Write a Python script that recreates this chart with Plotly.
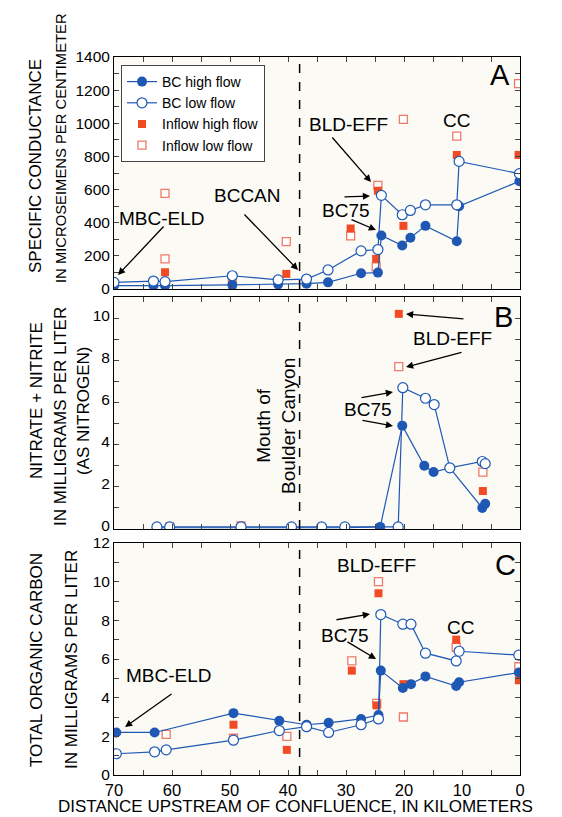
import plotly.graph_objects as go

# ---------------- DATA ----------------
# Panel A: specific conductance (uS/cm)
a_bc_high_km = [70, 63.2, 61.2, 49.6, 41.7, 36.8, 33.1, 27.4, 24.5, 23.9, 20.3, 18.9, 16.3, 10.9, 10.5, 0.1]
a_bc_high_val = [20, 20, 20, 25, 28, 32, 40, 95, 99, 323, 262, 309, 381, 288, 500, 650]
a_bc_low_km = [70, 63.2, 61.2, 49.6, 41.7, 36.8, 33.1, 27.4, 24.5, 23.9, 20.3, 18.9, 16.3, 10.9, 10.5, 0.1]
a_bc_low_val = [40, 48, 44, 80, 55, 60, 115, 230, 238, 565, 448, 474, 508, 508, 770, 696]
a_in_high_km = [61.2, 49.6, 40.3, 29.2, 24.8, 24.5, 20.1, 10.9, 0.25]
a_in_high_val = [101, 24, 91, 365, 182, 593, 381, 809, 809]
a_in_low_km = [61.2, 61.2, 49.6, 40.3, 29.2, 24.8, 24.5, 20.1, 10.9, 0.25]
a_in_low_val = [577, 182, 73, 286, 321, 133, 625, 1023, 922, 1239]

# Panel B: nitrate + nitrite (mg/L as N)
b_bc_high_km = [62.6, 60.4, 48.1, 39.4, 34.2, 30.2, 24.1, 20.3, 16.5, 14.9, 12.1, 6.5, 6.0]
b_bc_high_val = [0.06, 0.06, 0.06, 0.06, 0.06, 0.06, 0.1, 4.9, 3.0, 2.7, 2.9, 1.0, 1.2]
b_bc_low_km = [62.6, 60.4, 48.1, 39.4, 34.2, 30.2, 21.0, 20.2, 16.3, 14.8, 12.1, 6.5, 6.0]
b_bc_low_val = [0.1, 0.1, 0.1, 0.1, 0.1, 0.1, 0.1, 6.7, 6.2, 5.9, 2.9, 3.2, 3.1]
b_in_high_km = [20.9, 6.4]
b_in_high_val = [10.2, 1.8]
b_in_low_km = [60.4, 48.1, 20.9, 6.4]
b_in_low_val = [0.1, 0.15, 7.7, 2.7]

# Panel C: total organic carbon (mg/L)
c_bc_high_km = [69.6, 63.0, 49.4, 41.5, 36.8, 33.0, 27.4, 24.4, 24.0, 20.2, 18.8, 16.3, 11.0, 10.5, 0.2]
c_bc_high_val = [2.2, 2.2, 3.2, 2.8, 2.6, 2.7, 2.9, 3.1, 5.4, 4.5, 4.7, 5.1, 4.6, 4.8, 5.3]
c_bc_low_km = [69.6, 63.0, 61.0, 49.4, 41.5, 36.8, 33.0, 27.4, 24.4, 24.0, 20.2, 18.8, 16.3, 11.0, 10.5, 0.2]
c_bc_low_val = [1.1, 1.2, 1.3, 1.8, 2.3, 2.5, 2.2, 2.6, 2.9, 8.3, 7.8, 7.8, 6.3, 5.9, 6.4, 6.2]
c_in_high_km = [49.4, 40.2, 29.0, 24.7, 24.4, 20.1, 11.0, 0.2]
c_in_high_val = [2.6, 1.3, 5.4, 3.6, 9.4, 4.7, 7.0, 4.9]
c_in_low_km = [61.0, 49.4, 40.2, 29.0, 24.7, 24.4, 20.1, 11.0, 0.2]
c_in_low_val = [2.1, 1.9, 2.0, 5.9, 3.7, 10.0, 3.0, 6.6, 5.6]

x_ticks = [70, 60, 50, 40, 30, 20, 10, 0]
canyon_mouth_km = 38

# ---------------- STYLE ----------------
W, H = 562, 817
BLUE = "#1F58B4"
RED = "#F04B25"
RED_L = "#F07A68"
BG = "#FBFAF5"
FONT = "Liberation Sans, Arial, sans-serif"


def px(x):
    return x / W


def py(y):
    return 1 - y / H


panels = [
    ("x", "y", a_bc_high_km, a_bc_high_val, a_bc_low_km, a_bc_low_val,
     a_in_high_km, a_in_high_val, a_in_low_km, a_in_low_val, True),
    ("x2", "y2", b_bc_high_km, b_bc_high_val, b_bc_low_km, b_bc_low_val,
     b_in_high_km, b_in_high_val, b_in_low_km, b_in_low_val, False),
    ("x3", "y3", c_bc_high_km, c_bc_high_val, c_bc_low_km, c_bc_low_val,
     c_in_high_km, c_in_high_val, c_in_low_km, c_in_low_val, False),
]

fig = go.Figure()
for xa, ya, bhx, bhy, blx, bly, ihx, ihy, ilx, ily, show in panels:
    fig.add_trace(go.Scatter(x=ilx, y=ily, mode="markers", name="Inflow low flow",
                             xaxis=xa, yaxis=ya, showlegend=show, legendrank=4,
                             marker=dict(symbol="square", size=8, color="white",
                                         line=dict(color=RED_L, width=1.3))))
    fig.add_trace(go.Scatter(x=ihx, y=ihy, mode="markers", name="Inflow high flow",
                             xaxis=xa, yaxis=ya, showlegend=show, legendrank=3,
                             marker=dict(symbol="square", size=8, color=RED)))
    fig.add_trace(go.Scatter(x=bhx, y=bhy, mode="lines+markers", name="BC high flow",
                             xaxis=xa, yaxis=ya, showlegend=show, legendrank=1,
                             line=dict(color=BLUE, width=1.2),
                             marker=dict(symbol="circle", size=10, color=BLUE)))
    fig.add_trace(go.Scatter(x=blx, y=bly, mode="lines+markers", name="BC low flow",
                             xaxis=xa, yaxis=ya, showlegend=show, legendrank=2,
                             line=dict(color=BLUE, width=1.2),
                             marker=dict(symbol="circle", size=10, color="white",
                                         line=dict(color=BLUE, width=1.2))))

xdom = [px(106), px(512)]
common_x = dict(range=[70, 0], tickvals=x_ticks, ticks="inside", ticklen=5,
                minor=dict(dtick=5, ticks="inside", ticklen=5, tick0=0),
                showline=True, linecolor="black", linewidth=1, mirror="allticks",
                showgrid=False, zeroline=False, domain=xdom, automargin=False,
                tickfont=dict(size=16.5, color="black", family=FONT))
common_y = dict(ticks="inside", ticklen=5, showline=True, linecolor="black",
                linewidth=1, mirror="allticks", showgrid=False, zeroline=False,
                automargin=False,
                tickfont=dict(size=15.5, color="black", family=FONT))

fig.update_layout(
    width=W, height=H, margin=dict(l=0, r=0, t=0, b=0, autoexpand=False),
    paper_bgcolor="white", plot_bgcolor=BG,
    font=dict(family=FONT, color="black"),
    xaxis=dict(common_x, anchor="y", showticklabels=False),
    xaxis2=dict(common_x, anchor="y2", showticklabels=False),
    xaxis3=dict(common_x, anchor="y3", showticklabels=True),
    yaxis=dict(common_y, anchor="x", domain=[py(281), py(49)], range=[0, 1400],
               dtick=200, minor=dict(dtick=100, ticks="inside", ticklen=5)),
    yaxis2=dict(common_y, anchor="x2", domain=[py(521), py(289)], range=[0, 11],
                dtick=2, minor=dict(dtick=1, ticks="inside", ticklen=5),
                ticklabelshift=-3),
    yaxis3=dict(common_y, anchor="x3", domain=[py(767), py(535)], range=[0, 12],
                dtick=2, minor=dict(dtick=1, ticks="inside", ticklen=5)),
    legend=dict(x=px(113), y=py(57), xanchor="left", yanchor="top",
                bgcolor="white", bordercolor="#444", borderwidth=1,
                font=dict(size=14, family=FONT), tracegroupgap=0,
                itemwidth=30),
    showlegend=True,
)

for xa in ["x", "x2", "x3"]:
    yd = xa.replace("x", "y") + " domain"
    fig.add_shape(type="line", xref=xa, yref=yd, x0=canyon_mouth_km, x1=canyon_mouth_km,
                  y0=0, y1=1, line=dict(color="black", width=1.5, dash="dash"))

ann = []


def text(cx, cy, t, size=19, angle=0):
    ann.append(dict(x=px(cx), y=py(cy), xref="paper", yref="paper", text=t,
                    showarrow=False, xanchor="center", yanchor="middle",
                    textangle=angle, font=dict(size=size, color="black", family=FONT)))


def arrow(tail, head):
    ann.append(dict(x=px(head[0]), y=py(head[1]), xref="paper", yref="paper",
                    ax=tail[0] - head[0], ay=tail[1] - head[1], text="",
                    showarrow=True, arrowhead=2, arrowsize=1.1, arrowwidth=1.3,
                    arrowcolor="black"))


# Panel A
text(492, 67, "A", 29)
text(340, 116, "BLD-EFF")
text(448, 113, "CC")
text(338, 202, "BC75")
text(239, 188, "BCCAN")
text(154, 210, "MBC-ELD")
arrow((323, 128), (363, 174))
arrow((335, 189), (362, 188))
arrow((342, 211), (368, 222))
arrow((235, 205), (290, 262))
arrow((157, 217), (110, 267))

# Panel B
text(495, 309, "B", 29)
text(445, 330, "BLD-EFF")
text(360, 401, "BC75")
text(268, 418, "Mouth of<br>Boulder Canyon", 19, -90)
arrow((457, 311), (398, 306))
arrow((455, 344), (398, 359))
arrow((352, 390), (385, 384))
arrow((353, 412), (385, 418))

# Panel C
text(497, 557, "C", 29)
text(368, 557, "BLD-EFF")
text(452, 619, "CC")
text(337, 627, "BC75")
text(161, 667, "MBC-ELD")
arrow((165, 685), (117, 719))
arrow((327, 612), (362, 606))
arrow((338, 633), (368, 651))

# Axis titles
text(27, 158, "SPECIFIC CONDUCTANCE", 17, -90)
text(53, 140, "IN MICROSEIMENS PER CENTIMETER", 14.8, -90)
text(28, 393, "NITRATE + NITRITE", 17, -90)
text(52, 408, "IN MILLIGRAMS PER LITER", 17, -90)
text(75, 403, "(AS NITROGEN)", 17, -90)
text(28, 652, "TOTAL ORGANIC CARBON", 17, -90)
text(63, 652, "IN MILLIGRAMS PER LITER", 17, -90)
text(287, 798, "DISTANCE UPSTREAM OF CONFLUENCE, IN KILOMETERS", 17)

fig.update_layout(annotations=ann)
fig.write_html("out.html")
